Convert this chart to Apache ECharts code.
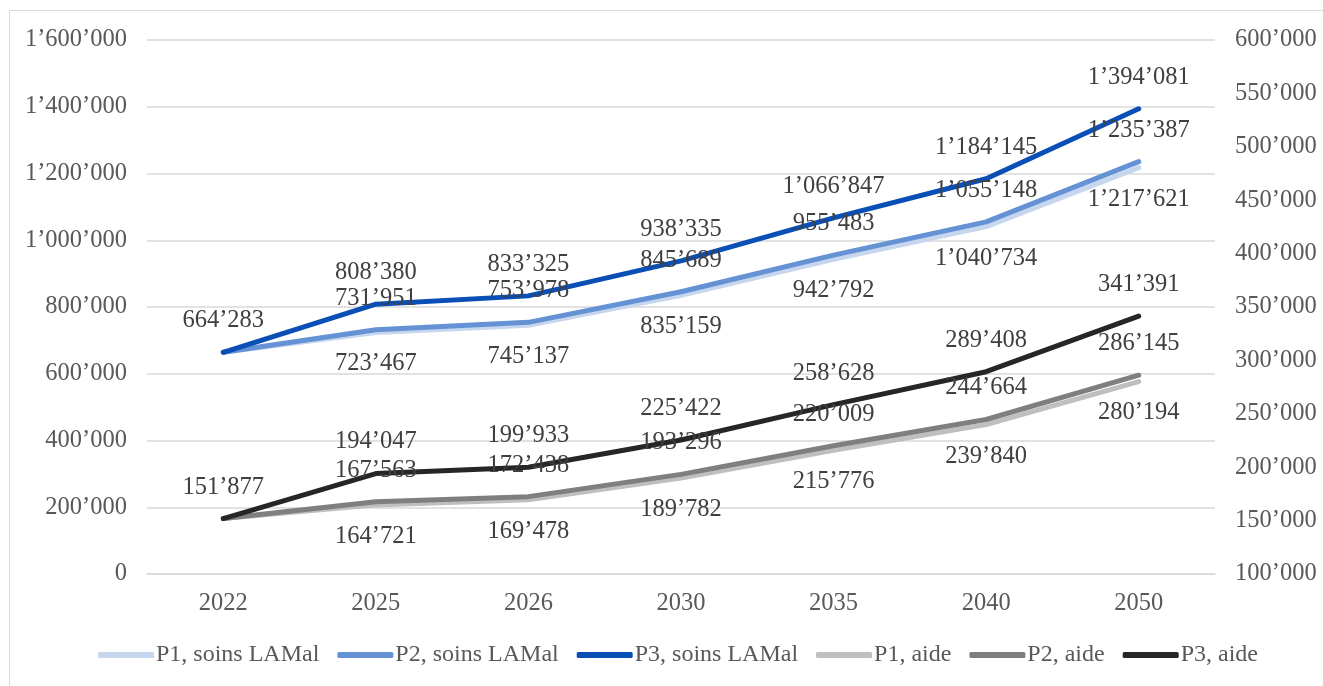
<!DOCTYPE html>
<html>
<head>
<meta charset="utf-8">
<script src="https://cdn.jsdelivr.net/npm/echarts@6/dist/echarts.min.js"></script>
<style>
  html, body { margin: 0; padding: 0; background: #fff; }
  #chart { width: 1323px; height: 686px; }
</style>
</head>
<body>
<div id="chart"></div>
<script>
// Years on the category axis
const years = ['2022', '2025', '2026', '2030', '2035', '2040', '2050'];

// Soins LAMal scenarios (left axis)
const p1Soins = [664283, 723467, 745137, 835159, 942792, 1040734, 1217621];
const p2Soins = [664283, 731951, 753978, 845689, 955483, 1055148, 1235387];
const p3Soins = [664283, 808380, 833325, 938335, 1066847, 1184145, 1394081];

// Aide scenarios (right axis)
const p1Aide = [151877, 164721, 169478, 189782, 215776, 239840, 280194];
const p2Aide = [151877, 167563, 172438, 193296, 220009, 244664, 286145];
const p3Aide = [151877, 194047, 199933, 225422, 258628, 289408, 341391];

const FONT = '"Liberation Serif", "Times New Roman", serif';
const FS = 24.5;
const fmt = v => String(Math.round(v)).replace(/\B(?=(\d{3})+(?!\d))/g, '\u2019');

// Skip the first label on the scenarios whose starting value coincides with P3
function withLabels(values, hideFirst) {
  return values.map((v, i) => (hideFirst && i === 0) ? { value: v, label: { show: false } } : v);
}

function lineSeries(name, values, color, yAxisIndex, position, hideFirst) {
  return {
    name: name,
    type: 'line',
    yAxisIndex: yAxisIndex,
    data: withLabels(values, hideFirst),
    symbol: 'circle',
    symbolSize: 0,
    showSymbol: true,
    lineStyle: { color: color, width: 5, cap: 'round', join: 'round' },
    itemStyle: { color: color },
    label: {
      show: true,
      position: position,
      distance: 19,
      color: '#404040',
      fontFamily: FONT,
      fontSize: FS,
      formatter: p => fmt(p.value)
    },
    emphasis: { disabled: true },
    animation: false
  };
}

const chart = echarts.init(document.getElementById('chart'), null, { renderer: 'canvas' });

chart.setOption({
  backgroundColor: '#fff',
  animation: false,
  graphic: [{
    type: 'rect',
    shape: { x: 9.5, y: 10.5, width: 1330, height: 690 },
    style: { fill: 'none', stroke: '#d9d9d9', lineWidth: 1 },
    silent: true
  }],
  grid: { left: 147, right: 108, top: 40, height: 534 },
  legend: {
    bottom: 14,
    left: 93,
    itemWidth: 56,
    itemHeight: 6,
    itemGap: 18,
    icon: 'roundRect',
    textStyle: { fontFamily: FONT, fontSize: 24, color: '#595959', padding: [0, 0, 0, -3] },
    data: ['P1, soins LAMal', 'P2, soins LAMal', 'P3, soins LAMal', 'P1, aide', 'P2, aide', 'P3, aide']
  },
  xAxis: {
    type: 'category',
    data: years,
    boundaryGap: true,
    axisLine: { show: true, lineStyle: { color: '#d9d9d9', width: 1.5 } },
    axisTick: { show: false },
    axisLabel: { color: '#595959', fontFamily: FONT, fontSize: FS, margin: 17 }
  },
  yAxis: [{
    type: 'value',
    min: 0, max: 1600000, interval: 200000,
    position: 'left',
    axisLine: { show: false },
    axisTick: { show: false },
    splitLine: { lineStyle: { color: '#d9d9d9', width: 1.5 } },
    axisLabel: { color: '#595959', fontFamily: FONT, fontSize: FS, margin: 20, formatter: fmt }
  }, {
    type: 'value',
    min: 100000, max: 600000, interval: 50000,
    position: 'right',
    axisLine: { show: false },
    axisTick: { show: false },
    splitLine: { show: false },
    axisLabel: { color: '#595959', fontFamily: FONT, fontSize: FS, margin: 20, formatter: fmt }
  }],
  series: [
    lineSeries('P1, soins LAMal', p1Soins, '#c6d6ee', 0, 'bottom', true),
    lineSeries('P2, soins LAMal', p2Soins, '#6492d4', 0, 'top', true),
    lineSeries('P3, soins LAMal', p3Soins, '#0a4fb5', 0, 'top', false),
    lineSeries('P1, aide', p1Aide, '#bfbfbf', 1, 'bottom', true),
    lineSeries('P2, aide', p2Aide, '#7f7f7f', 1, 'top', true),
    lineSeries('P3, aide', p3Aide, '#262626', 1, 'top', false)
  ]
});
</script>
</body>
</html>
